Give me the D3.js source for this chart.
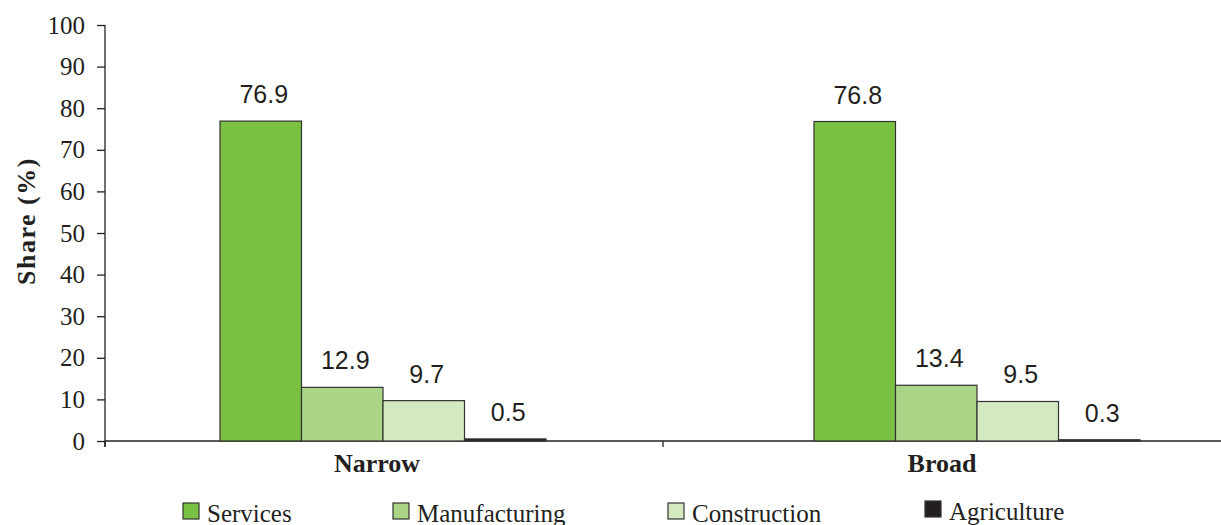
<!DOCTYPE html>
<html><head><meta charset="utf-8">
<script src="https://cdn.jsdelivr.net/npm/d3@7"></script>
<style>body{margin:0;background:#fff}svg{display:block}</style>
</head><body><svg id="c" width="1221" height="525"></svg>
<script>
const groups = ["Narrow", "Broad"];
const sectors = ["Services", "Manufacturing", "Construction", "Agriculture"];
const services = [76.9, 76.8];
const manufacturing = [12.9, 13.4];
const construction = [9.7, 9.5];
const agriculture = [0.5, 0.3];
const yTicks = [0,10,20,30,40,50,60,70,80,90,100];
const colors = ["#7ac143", "#aad486", "#d5e9c1", "#231f20"];
const seriesVals = [services, manufacturing, construction, agriculture];

const svg = d3.select("#c");
const y = d3.scaleLinear().domain([0,100]).range([441,25]);
const xAxisScale = d3.scaleBand().domain(groups).range([105,1221]);
const xBars = d3.scaleBand().domain(groups).range([86,1274]);
const xInner = d3.scaleBand().domain(sectors).range([0,326]);
const serif = "'Liberation Serif','Times New Roman',serif";
const sans = "'Liberation Sans',Arial,sans-serif";
const ink = "#231f20";

// y axis
const ya = svg.append("g").attr("transform","translate(105,0)")
  .call(d3.axisLeft(y).tickValues(yTicks).tickSize(8).tickPadding(12));
ya.select(".domain").attr("stroke",ink).attr("stroke-width",1.3).attr("d","M0,25V447");
ya.selectAll(".tick line").attr("stroke",ink).attr("stroke-width",1.3);
ya.selectAll(".tick text").attr("font-family",serif).attr("font-size",25).attr("fill",ink);

// x axis
const xa = svg.append("g").attr("transform","translate(0,441)");
xa.append("line").attr("x1",105).attr("x2",1221).attr("stroke",ink).attr("stroke-width",1.3);
xa.selectAll("line.t").data(groups).enter().append("line")
  .attr("x1",d=>xAxisScale(d)).attr("x2",d=>xAxisScale(d)).attr("y1",0).attr("y2",6)
  .attr("stroke",ink).attr("stroke-width",1.3);
xa.selectAll("text").data(groups).enter().append("text")
  .attr("x",(d,i)=>xAxisScale(d)+xAxisScale.bandwidth()/2 - (i===0?7:0)).attr("y",31)
  .attr("text-anchor","middle").attr("font-family",serif).attr("font-weight","bold")
  .attr("font-size",26).attr("fill",ink).text(d=>d);

// bars
groups.forEach((g,gi)=>{
  const gx = xBars(g) + (xBars.bandwidth()-326)/2;
  sectors.forEach((s,si)=>{
    const v = seriesVals[si][gi];
    svg.append("rect")
      .attr("x", gx + xInner(s)).attr("width", xInner.bandwidth())
      .attr("y", y(v)).attr("height", y(0)-y(v))
      .attr("fill", colors[si]).attr("stroke", "#333").attr("stroke-width",1.2);
    svg.append("text")
      .attr("x", gx + xInner(s) + xInner.bandwidth()/2 + 3).attr("y", y(v)-18)
      .attr("text-anchor","middle").attr("font-family",sans).attr("font-size",25)
      .attr("fill",ink).text(v.toFixed(1));
  });
});

// y title
svg.append("text").attr("transform","translate(35,221) rotate(-90)")
  .attr("text-anchor","middle").attr("font-family",serif).attr("font-weight","bold")
  .attr("font-size",26).attr("letter-spacing",1.5).attr("fill",ink).text("Share (%)");

// legend
const legX = [183, 393, 668, 925];
const legY = [503, 503, 503, 501];
sectors.forEach((s,i)=>{
  const g = svg.append("g").attr("transform",`translate(${legX[i]},${legY[i]})`);
  g.append("rect").attr("width",16).attr("height",16).attr("fill",colors[i])
    .attr("stroke","#333").attr("stroke-width",1.2);
  g.append("text").attr("x",24).attr("y",18.5).attr("font-family",serif)
    .attr("font-size",25).attr("fill",ink).text(s);
});
</script></body></html>
